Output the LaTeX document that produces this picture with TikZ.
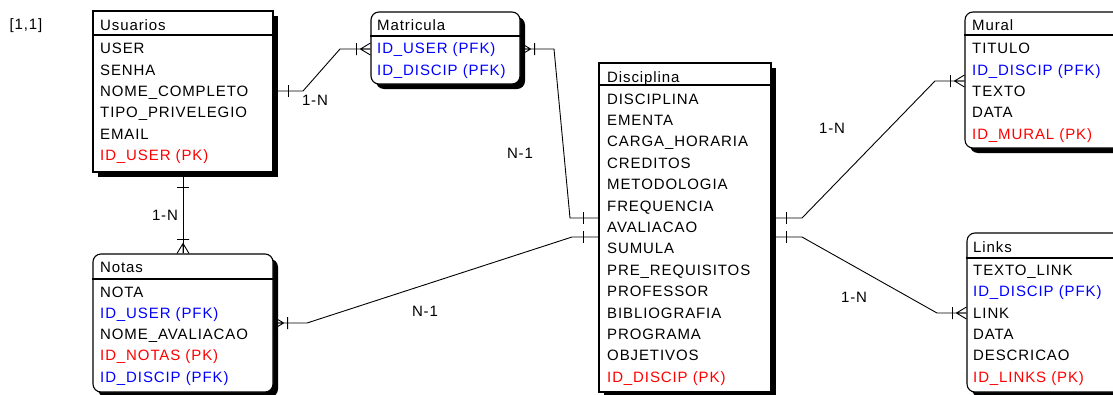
\documentclass[tikz,border=0pt]{standalone}
\usepackage{fontspec}
\setmainfont{Liberation Sans}[LetterSpace=6]
\usetikzlibrary{shadows}
\definecolor{pkred}{RGB}{255,0,0}
\definecolor{fkblue}{RGB}{0,0,255}
\tikzset{
 ent/.style={draw, line width=1.1pt, fill=white, inner sep=0pt,
   general shadow={shadow xshift=5pt, shadow yshift=-5pt, fill=black}},
 rent/.style={ent, rounded corners=8pt},
 fld/.style={anchor=base west, inner sep=0pt, font=\fontsize{15}{17}\selectfont},
 pk/.style={fld, text=pkred},
 fk/.style={fld, text=fkblue},
 lbl/.style={inner sep=0pt, font=\fontsize{15}{17}\selectfont},
 rel/.style={line width=0.9pt},
 hdr/.style={line width=1.1pt},
 many/.pic={\draw[rel] (-10,0) -- (0,-6) (-10,0) -- (0,0) (-10,0) -- (0,6) (-14,-6) -- (-14,6);},
 one/.pic={\draw[rel] (-15,-6) -- (-15,6);},
}
\begin{document}
\begin{tikzpicture}[x=1pt,y=-1pt]
\useasboundingbox (0,0) rectangle (1113,394);
\clip (0,0) rectangle (1113,394);

% entities
\node[ent, minimum width=180pt, minimum height=161pt] (usu) at (183,91.5) {};
\node[rent, minimum width=149pt, minimum height=72pt] (mat) at (445.5,48) {};
\node[ent, minimum width=172pt, minimum height=329pt] (dis) at (685,227.5) {};
\node[rent, minimum width=160pt, minimum height=136pt] (mur) at (1045,80) {};
\node[rent, minimum width=158pt, minimum height=159pt] (lin) at (1046,312.5) {};
\node[rent, minimum width=180pt, minimum height=138pt] (not) at (183,323) {};

% header lines
\draw[hdr] (usu.west |- 0,35) -- (usu.east |- 0,35);
\draw[hdr] (mat.west |- 0,36) -- (mat.east |- 0,36);
\draw[hdr] (dis.west |- 0,85) -- (dis.east |- 0,85);
\draw[hdr] (mur.west |- 0,35) -- (mur.east |- 0,35);
\draw[hdr] (lin.west |- 0,258) -- (lin.east |- 0,258);
\draw[hdr] (not.west |- 0,279) -- (not.east |- 0,279);

% Usuarios
\node[fld] (usuT) at (100,30) {Usuarios};
\node[fld] (usu1) at (100,53) {USER};
\node[fld] (usu2) at (100,75) {SENHA};
\node[fld] (usu3) at (100,96) {NOME\_COMPLETO};
\node[fld] (usu4) at (100,117) {TIPO\_PRIVELEGIO};
\node[fld] (usu5) at (100,139) {EMAIL};
\node[pk]  (usu6) at (100,160) {ID\_USER (PK)};

% Matricula
\node[fld] (matT) at (377,30) {Matricula};
\node[fk]  (mat1) at (377,53) {ID\_USER (PFK)};
\node[fk]  (mat2) at (377,75) {ID\_DISCIP (PFK)};

% Disciplina
\node[fld] (disT) at (607,82) {Disciplina};
\node[fld] (dis1) at (607,104) {DISCIPLINA};
\node[fld] (dis2) at (607,125.4) {EMENTA};
\node[fld] (dis3) at (607,146.8) {CARGA\_HORARIA};
\node[fld] (dis4) at (607,168.2) {CREDITOS};
\node[fld] (dis5) at (607,189.6) {METODOLOGIA};
\node[fld] (dis6) at (607,211) {FREQUENCIA};
\node[fld] (dis7) at (607,232.4) {AVALIACAO};
\node[fld] (dis8) at (607,253.8) {SUMULA};
\node[fld] (dis9) at (607,275.2) {PRE\_REQUISITOS};
\node[fld] (dis10) at (607,296.6) {PROFESSOR};
\node[fld] (dis11) at (607,318) {BIBLIOGRAFIA};
\node[fld] (dis12) at (607,339.4) {PROGRAMA};
\node[fld] (dis13) at (607,360.8) {OBJETIVOS};
\node[pk]  (dis14) at (607,382.2) {ID\_DISCIP (PK)};

% Mural
\node[fld] (murT) at (972,30) {Mural};
\node[fld] (mur1) at (972,53) {TITULO};
\node[fk]  (mur2) at (972,75) {ID\_DISCIP (PFK)};
\node[fld] (mur3) at (972,96) {TEXTO};
\node[fld] (mur4) at (972,117) {DATA};
\node[pk]  (mur5) at (972,139) {ID\_MURAL (PK)};

% Links
\node[fld] (linT) at (973,252) {Links};
\node[fld] (lin1) at (973,275) {TEXTO\_LINK};
\node[fk]  (lin2) at (973,296) {ID\_DISCIP (PFK)};
\node[fld] (lin3) at (973,318) {LINK};
\node[fld] (lin4) at (973,339) {DATA};
\node[fld] (lin5) at (973,360) {DESCRICAO};
\node[pk]  (lin6) at (973,382) {ID\_LINKS (PK)};

% Notas
\node[fld] (notT) at (100,272) {Notas};
\node[fld] (not1) at (100,297) {NOTA};
\node[fk]  (not2) at (100,318) {ID\_USER (PFK)};
\node[fld] (not3) at (100,339) {NOME\_AVALIACAO};
\node[pk]  (not4) at (100,360) {ID\_NOTAS (PK)};
\node[fk]  (not5) at (100,382) {ID\_DISCIP (PFK)};

% connectors
\draw[rel] (usu.east |- 0,91) -- (303,91) -- (340,49) -- (mat.west |- 0,49);
\pic[rotate=180] at (usu.east |- 0,91) {one};
\pic at (mat.west |- 0,49) {many};

\draw[rel] (mat.east |- 0,49) -- (554,49) -- (570,218) -- (dis.west |- 0,218);
\pic[rotate=180] at (mat.east |- 0,49) {many};
\pic at (dis.west |- 0,218) {one};

\draw[rel] (not.east |- 0,323) -- (307,323) -- (572,237) -- (dis.west |- 0,237);
\pic[rotate=180] at (not.east |- 0,323) {many};
\pic at (dis.west |- 0,237) {one};

\draw[rel] (usu.south) -- (not.north);
\pic[rotate=90] at (usu.south) {one};
\pic[rotate=-90] at (not.north) {many};

\draw[rel] (dis.east |- 0,218) -- (802,218) -- (935,81) -- (mur.west |- 0,81);
\pic[rotate=180] at (dis.east |- 0,218) {one};
\pic at (mur.west |- 0,81) {many};

\draw[rel] (dis.east |- 0,237) -- (802,237) -- (937,313) -- (lin.west |- 0,313);
\pic[rotate=180] at (dis.east |- 0,237) {one};
\pic at (lin.west |- 0,313) {many};

% labels
\node[lbl] (l0) at (26,26) {[1,1]};
\node[lbl] (l1) at (315,100) {1-N};
\node[lbl] (l2) at (165,215) {1-N};
\node[lbl] (l3) at (520,153) {N-1};
\node[lbl] (l4) at (425,311) {N-1};
\node[lbl] (l5) at (832,128) {1-N};
\node[lbl] (l6) at (854,297) {1-N};
\end{tikzpicture}
\end{document}
